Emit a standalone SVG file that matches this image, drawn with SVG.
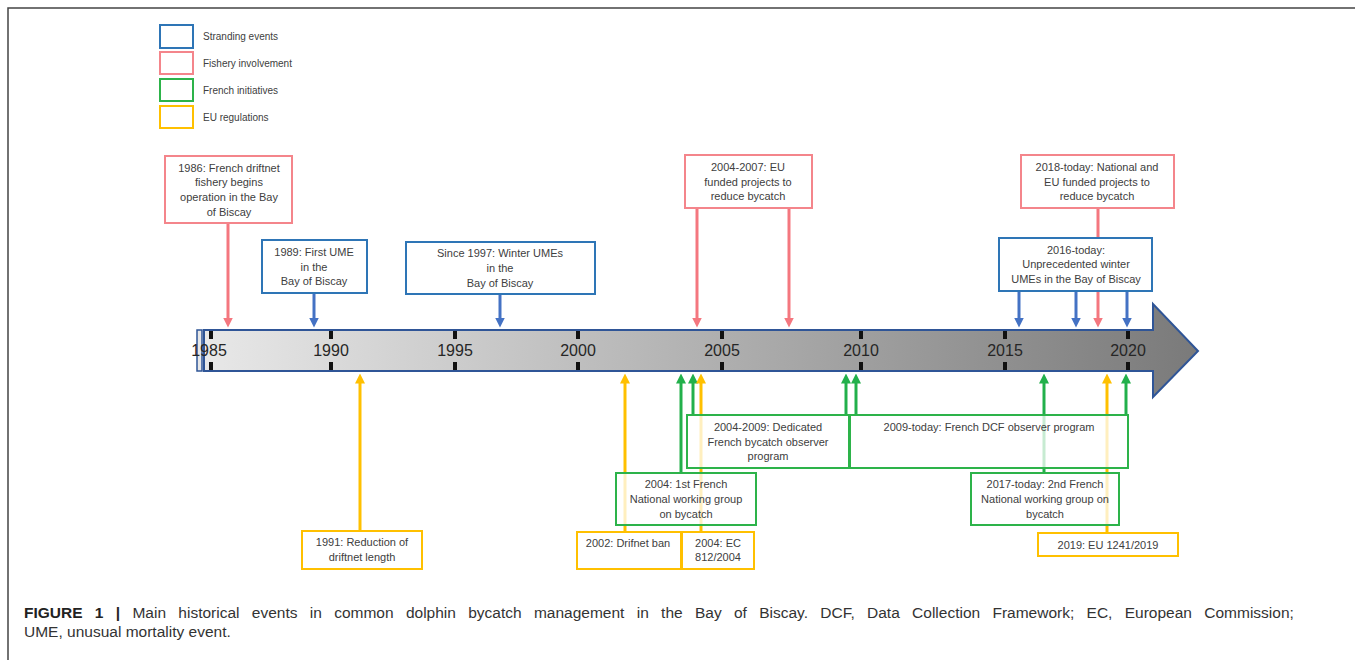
<svg xmlns="http://www.w3.org/2000/svg" width="1355" height="660" viewBox="0 0 1355 660">
<style>
.bt{font-family:"Liberation Sans",Arial,sans-serif;font-size:11px;fill:#404040;text-anchor:middle}
.lg{font-family:"Liberation Sans",Arial,sans-serif;font-size:10px;fill:#404040}
.yr{font-family:"Liberation Sans",Arial,sans-serif;font-size:16px;fill:#262626;text-anchor:middle}
.cap{font-family:"Liberation Sans",Arial,sans-serif;font-size:15.5px;fill:#333}
.bb{fill:#fff;stroke:#2e75b6;stroke-width:2}
.pb{fill:#fff;stroke:#f4858b;stroke-width:2}
.gb{fill:#fff;fill-opacity:0.75;stroke:#2db34a;stroke-width:2}
.yb{fill:#fff;fill-opacity:0.75;stroke:#ffc000;stroke-width:2}
.tk{fill:#111}
.cb{stroke:#4472c4;stroke-width:3;marker-end:url(#mb)}
.cp{stroke:#f4777f;stroke-width:3;marker-end:url(#mp)}
.cg{stroke:#22b04b;stroke-width:3;marker-end:url(#mg)}
.cy{stroke:#ffc000;stroke-width:3;marker-end:url(#my)}
</style>
<defs>
<linearGradient id="grad" gradientUnits="userSpaceOnUse" x1="204" y1="0" x2="1198" y2="0">
<stop offset="0" stop-color="#e8e8e8"/>
<stop offset="1" stop-color="#7a7a7a"/>
</linearGradient>
<marker id="mb" viewBox="0 0 10 10" refX="0.5" refY="5" markerWidth="10" markerHeight="10" markerUnits="userSpaceOnUse" orient="auto"><path d="M0,0 L10,5 L0,10 z" fill="#4472c4"/></marker>
<marker id="mp" viewBox="0 0 10 10" refX="0.5" refY="5" markerWidth="10" markerHeight="10" markerUnits="userSpaceOnUse" orient="auto"><path d="M0,0 L10,5 L0,10 z" fill="#f4777f"/></marker>
<marker id="mg" viewBox="0 0 10 10" refX="0.5" refY="5" markerWidth="10" markerHeight="10" markerUnits="userSpaceOnUse" orient="auto"><path d="M0,0 L10,5 L0,10 z" fill="#22b04b"/></marker>
<marker id="my" viewBox="0 0 10 10" refX="0.5" refY="5" markerWidth="10" markerHeight="10" markerUnits="userSpaceOnUse" orient="auto"><path d="M0,0 L10,5 L0,10 z" fill="#ffc000"/></marker>
</defs>
<rect width="1355" height="660" fill="#fff"/>
<rect x="8" y="8" width="1400" height="700" fill="none" stroke="#444" stroke-width="1.5"/>

<g id="legend">
<rect x="160" y="25" width="33" height="23" fill="none" stroke="#2e75b6" stroke-width="2"/>
<text class="lg" x="203" y="40">Stranding events</text>
<rect x="160" y="52" width="33" height="22" fill="none" stroke="#f4858b" stroke-width="2"/>
<text class="lg" x="203" y="67">Fishery involvement</text>
<rect x="160" y="79" width="33" height="22" fill="none" stroke="#2db34a" stroke-width="2"/>
<text class="lg" x="203" y="94">French initiatives</text>
<rect x="160" y="106" width="33" height="22" fill="none" stroke="#ffc000" stroke-width="2"/>
<text class="lg" x="203" y="121">EU regulations</text>
</g>

<g id="timeline">
<rect x="197" y="330" width="5" height="41" fill="#e8e8e8" stroke="#2f5597" stroke-width="1.5"/>
<path d="M204,330 L1153,330 L1153,304 L1198,351 L1153,397 L1153,371 L204,371 Z" fill="url(#grad)" stroke="#2f5597" stroke-width="2"/>
<g>
<rect class="tk" x="209" y="331" width="4" height="8"/><rect class="tk" x="209" y="362" width="4" height="8"/>
<rect class="tk" x="329" y="331" width="4" height="8"/><rect class="tk" x="329" y="362" width="4" height="8"/>
<rect class="tk" x="453" y="331" width="4" height="8"/><rect class="tk" x="453" y="362" width="4" height="8"/>
<rect class="tk" x="576" y="331" width="4" height="8"/><rect class="tk" x="576" y="362" width="4" height="8"/>
<rect class="tk" x="720" y="331" width="4" height="8"/><rect class="tk" x="720" y="362" width="4" height="8"/>
<rect class="tk" x="859" y="331" width="4" height="8"/><rect class="tk" x="859" y="362" width="4" height="8"/>
<rect class="tk" x="1003" y="331" width="4" height="8"/><rect class="tk" x="1003" y="362" width="4" height="8"/>
<rect class="tk" x="1126" y="331" width="4" height="8"/><rect class="tk" x="1126" y="362" width="4" height="8"/>
</g>
<text class="yr" x="209" y="356">1985</text>
<text class="yr" x="331" y="356">1990</text>
<text class="yr" x="455" y="356">1995</text>
<text class="yr" x="578" y="356">2000</text>
<text class="yr" x="722" y="356">2005</text>
<text class="yr" x="861" y="356">2010</text>
<text class="yr" x="1005" y="356">2015</text>
<text class="yr" x="1128" y="356">2020</text>
</g>

<g id="connectors">
<line class="cp" x1="228" y1="223" x2="228" y2="318"/>
<line class="cb" x1="314" y1="293" x2="314" y2="318"/>
<line class="cb" x1="500" y1="294" x2="500" y2="318"/>
<line class="cp" x1="697" y1="208" x2="697" y2="318"/>
<line class="cp" x1="789" y1="208" x2="789" y2="318"/>
<line class="cp" x1="1098" y1="208" x2="1098" y2="318"/>
<line class="cb" x1="1019" y1="291" x2="1019" y2="318"/>
<line class="cb" x1="1076" y1="291" x2="1076" y2="318"/>
<line class="cb" x1="1127" y1="291" x2="1127" y2="318"/>
<line class="cy" x1="360" y1="531" x2="360" y2="383"/>
<line class="cy" x1="625" y1="532" x2="625" y2="383"/>
<line class="cg" x1="681" y1="473" x2="681" y2="383"/>
<line class="cg" x1="693" y1="415" x2="693" y2="383"/>
<line class="cy" x1="701" y1="532" x2="701" y2="383"/>
<line class="cg" x1="846" y1="415" x2="846" y2="383"/>
<line class="cg" x1="856" y1="415" x2="856" y2="383"/>
<line class="cg" x1="1044" y1="473" x2="1044" y2="383"/>
<line class="cy" x1="1107" y1="533" x2="1107" y2="383"/>
<line class="cg" x1="1126" y1="415" x2="1126" y2="383"/>
</g>

<g id="n1986">
<rect class="pb" x="165" y="156" width="127" height="67"/>
<text class="bt" x="229" y="172">1986: French driftnet</text>
<text class="bt" x="229" y="186">fishery begins</text>
<text class="bt" x="229" y="201">operation in the Bay</text>
<text class="bt" x="229" y="216">of Biscay</text>
</g>
<g id="n1989">
<rect class="bb" x="262" y="240" width="105" height="53"/>
<text class="bt" x="314" y="256">1989: First UME</text>
<text class="bt" x="314" y="271">in the</text>
<text class="bt" x="314" y="285">Bay of Biscay</text>
</g>
<g id="n1997">
<rect class="bb" x="406" y="242" width="189" height="52"/>
<text class="bt" x="500" y="257">Since 1997: Winter UMEs</text>
<text class="bt" x="500" y="272">in the</text>
<text class="bt" x="500" y="287">Bay of Biscay</text>
</g>
<g id="n2004_2007">
<rect class="pb" x="685" y="155" width="127" height="53"/>
<text class="bt" x="748" y="171">2004-2007: EU</text>
<text class="bt" x="748" y="186">funded projects to</text>
<text class="bt" x="748" y="200">reduce bycatch</text>
</g>
<g id="n2018">
<rect class="pb" x="1021" y="155" width="153" height="53"/>
<text class="bt" x="1097" y="171">2018-today: National and</text>
<text class="bt" x="1097" y="186">EU funded projects to</text>
<text class="bt" x="1097" y="200">reduce bycatch</text>
</g>
<g id="n2016">
<rect class="bb" x="999" y="238" width="153" height="53"/>
<text class="bt" x="1076" y="254">2016-today:</text>
<text class="bt" x="1076" y="268">Unprecedented winter</text>
<text class="bt" x="1076" y="283">UMEs in the Bay of Biscay</text>
</g>
<g id="n2004_2009">
<rect class="gb" x="687" y="415" width="162" height="53"/>
<text class="bt" x="768" y="431">2004-2009: Dedicated</text>
<text class="bt" x="768" y="446">French bycatch observer</text>
<text class="bt" x="768" y="460">program</text>
</g>
<g id="n2009">
<rect class="gb" x="850" y="415" width="278" height="53"/>
<text class="bt" x="989" y="431">2009-today: French DCF observer program</text>
</g>
<g id="n2004wg">
<rect class="gb" x="616" y="473" width="140" height="52"/>
<text class="bt" x="686" y="488">2004: 1st French</text>
<text class="bt" x="686" y="503">National working group</text>
<text class="bt" x="686" y="518">on bycatch</text>
</g>
<g id="n2017">
<rect class="gb" x="971" y="473" width="148" height="52"/>
<text class="bt" x="1045" y="488">2017-today: 2nd French</text>
<text class="bt" x="1045" y="503">National working group on</text>
<text class="bt" x="1045" y="518">bycatch</text>
</g>
<g id="n1991">
<rect class="yb" x="302" y="531" width="120" height="38"/>
<text class="bt" x="362" y="546">1991: Reduction of</text>
<text class="bt" x="362" y="561">driftnet length</text>
</g>
<g id="n2002">
<rect class="yb" x="577" y="532" width="104" height="37"/>
<text class="bt" x="628" y="547">2002: Drifnet ban</text>
</g>
<g id="n2004ec">
<rect class="yb" x="682" y="532" width="72" height="37"/>
<text class="bt" x="718" y="547">2004: EC</text>
<text class="bt" x="718" y="561">812/2004</text>
</g>
<g id="n2019">
<rect class="yb" x="1038" y="533" width="140" height="23"/>
<text class="bt" x="1108" y="549">2019: EU 1241/2019</text>
</g>

<g id="caption">
<text class="cap" x="24" y="618" word-spacing="8"><tspan font-weight="bold" fill="#222">FIGURE 1 |</tspan> Main historical events in common dolphin bycatch management in the Bay of Biscay. DCF, Data Collection Framework; EC, European Commission;</text>
<text class="cap" x="24" y="637">UME, unusual mortality event.</text>
</g>
</svg>
